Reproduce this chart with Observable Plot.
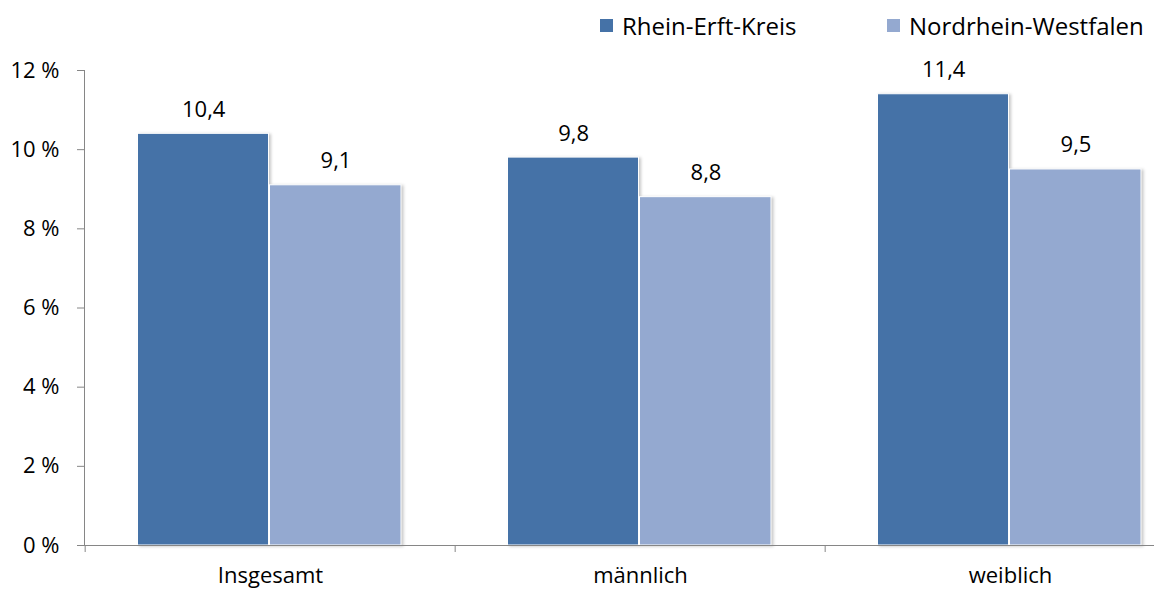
<!DOCTYPE html>
<html>
<head>
<meta charset="utf-8">
<script src="https://cdn.jsdelivr.net/npm/d3@7"></script>
<script src="https://cdn.jsdelivr.net/npm/@observablehq/plot@0.6"></script>
<style>
  html, body { margin: 0; padding: 0; background: #fff; overflow: hidden; }
  #legend { position: relative; height: 50px; font-family: "Open Sans", sans-serif; font-size: 24px; color: #000; }
  .item { position: absolute; top: 8px; display: flex; align-items: center; height: 34px; white-space: nowrap; }
  .sw { width: 13px; height: 13px; margin-right: 9px; }
</style>
</head>
<body>
<div id="legend"></div>
<div id="chart"></div>
<script>
const categories = ["Insgesamt", "männlich", "weiblich"];
const series = ["Rhein-Erft-Kreis", "Nordrhein-Westfalen"];
const rheinErft = [10.4, 9.8, 11.4];
const nordrheinWestfalen = [9.1, 8.8, 9.5];
const yTicks = [0, 2, 4, 6, 8, 10, 12];

const colors = ["#4572A7", "#94A9D0"];
const axisColor = "#868686";

const rowsA = categories.map((c, i) => ({category: c, series: series[0], value: rheinErft[i]}));
const rowsB = categories.map((c, i) => ({category: c, series: series[1], value: nordrheinWestfalen[i]}));
const fmt = v => v.toFixed(1).replace(".", ",");

// legend
const legend = document.getElementById("legend");
const legendLeft = [600, 887];
series.forEach((s, i) => {
  const it = document.createElement("div");
  it.className = "item";
  it.style.left = legendLeft[i] + "px";
  it.innerHTML = `<span class="sw" style="background:${colors[i]}"></span><span>${s}</span>`;
  legend.appendChild(it);
});

const chart = Plot.plot({
  width: 1154,
  height: 540,
  marginTop: 20,
  marginLeft: 84,
  marginRight: 0,
  marginBottom: 45,
  style: {fontFamily: "'Open Sans', sans-serif", fontSize: "22px", color: "#000", background: "white"},
  x: {domain: categories, range: [84, 1196], padding: 0, axis: null},
  y: {domain: [0, 12], axis: null},
  marks: [
    Plot.barY(rowsA, {x: "category", y: "value", fill: colors[0], stroke: "white", strokeWidth: 1, insetLeft: 52.5, insetRight: 186.5}),
    Plot.barY(rowsB, {x: "category", y: "value", fill: colors[1], stroke: "white", strokeWidth: 1, insetLeft: 184.5, insetRight: 54}),
    Plot.text(rowsA, {x: "category", y: "value", text: d => fmt(d.value), dx: -66.8, dy: -17, lineAnchor: "bottom", fill: "#000"}),
    Plot.text(rowsB, {x: "category", y: "value", text: d => fmt(d.value), dx: 65.5, dy: -17, lineAnchor: "bottom", fill: "#000"}),
    Plot.frame({anchor: "left", stroke: axisColor}),
    Plot.ruleY([0], {stroke: axisColor}),
    Plot.axisY(yTicks, {tickSize: 7, tickPadding: 18, tickFormat: d => `${d} %`, stroke: axisColor, label: null}),
    Plot.axisX({tickSize: 0, tickPadding: 22, label: null}),
    Plot.axisX({text: null, tickSize: 7, dx: -185.33, stroke: axisColor, label: null})
  ]
});
chart.querySelectorAll('g[aria-label="bar"]').forEach(g => {
  g.style.filter = "drop-shadow(2px 1px 1.5px rgba(0,0,0,0.22))";
});
document.getElementById("chart").appendChild(chart);
</script>
</body>
</html>
